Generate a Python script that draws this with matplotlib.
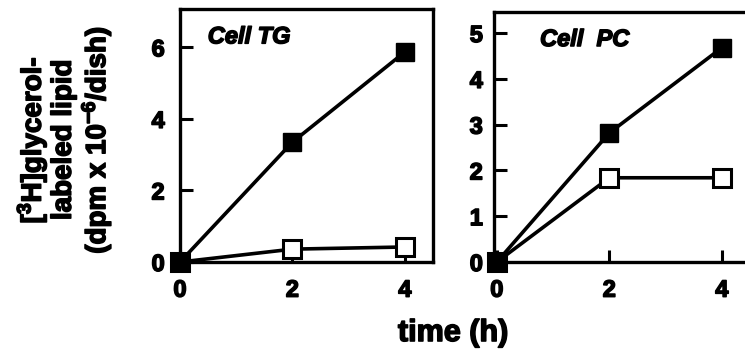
import matplotlib
matplotlib.use("Agg")
import matplotlib.pyplot as plt
import matplotlib.patheffects as pe

plt.rcParams['font.family'] = ['Liberation Sans', 'DejaVu Sans']
plt.rcParams['font.weight'] = 'bold'
plt.rcParams['mathtext.fontset'] = 'custom'
plt.rcParams['mathtext.rm'] = 'Liberation Sans:bold'
plt.rcParams['mathtext.bf'] = 'Liberation Sans:bold'
plt.rcParams['mathtext.default'] = 'bf'

# time points (h)
time_h = [0, 2, 4]

# Cell TG (dpm x 10^-6 / dish)
tg_filled = [0, 3.35, 5.87]
tg_open = [0, 0.36, 0.42]

# Cell PC (dpm x 10^-6 / dish)
pc_filled = [0, 2.82, 4.68]
pc_open = [0, 1.84, 1.84]

tg_yticks = [0, 2, 4, 6]
pc_yticks = [0, 1, 2, 3, 4, 5]
xticks = [0, 2, 4]

# heavier look for the printed-figure text
heavy = [pe.withStroke(linewidth=1.1, foreground='black')]

fig = plt.figure(figsize=(7.45, 3.62), dpi=100)

ax1 = fig.add_axes([0.2416, 0.2762, 0.3396, 0.6989])
ax2 = fig.add_axes([0.6631, 0.2762, 0.3436, 0.6906])


def draw(ax, filled, opened, yticks, ylim, xlim, label, label_x, ypad):
    ax.plot(time_h, opened, color='black', lw=2.6, marker='s', ms=13,
            mfc='white', mec='black', mew=2.2, clip_on=False, zorder=3)
    ax.plot(time_h, filled, color='black', lw=2.6, marker='s', ms=13.5,
            mfc='black', mec='black', clip_on=False, zorder=4)
    ax.set_xlim(*xlim)
    ax.set_ylim(*ylim)
    ax.set_xticks(xticks)
    ax.set_yticks(yticks)
    for s in ax.spines.values():
        s.set_linewidth(2.4)
    ax.tick_params(axis='both', direction='in', length=9, width=2.2,
                   labelsize=17)
    ax.tick_params(axis='x', pad=12)
    ax.tick_params(axis='y', pad=ypad)
    for t in ax.get_xticklabels() + ax.get_yticklabels():
        t.set_fontweight('bold')
        t.set_path_effects(heavy)
    ax.text(label_x, 0.89, label, transform=ax.transAxes, fontsize=17,
            fontweight='bold', style='italic', ha='left', va='center',
            path_effects=heavy)


draw(ax1, tg_filled, tg_open, tg_yticks, (0, 7.07), (0, 4.5),
     'Cell TG', 0.11, 11)
draw(ax2, pc_filled, pc_open, pc_yticks, (0, 5.46), (-0.05, 4.5),
     'Cell  PC', 0.18, 8)

fig.text(0.086, 0.613,
         '[$^{3}$H]glycerol-\nlabeled lipid\n(dpm x 10$^{-6}$/dish)',
         rotation=90, ha='center', va='center', multialignment='center',
         fontsize=20, fontweight='bold', linespacing=1.1,
         path_effects=heavy)
fig.text(0.608, 0.08, 'time (h)', ha='center', va='center',
         fontsize=22, fontweight='bold', path_effects=heavy)

fig.savefig('out.png', dpi=100)
